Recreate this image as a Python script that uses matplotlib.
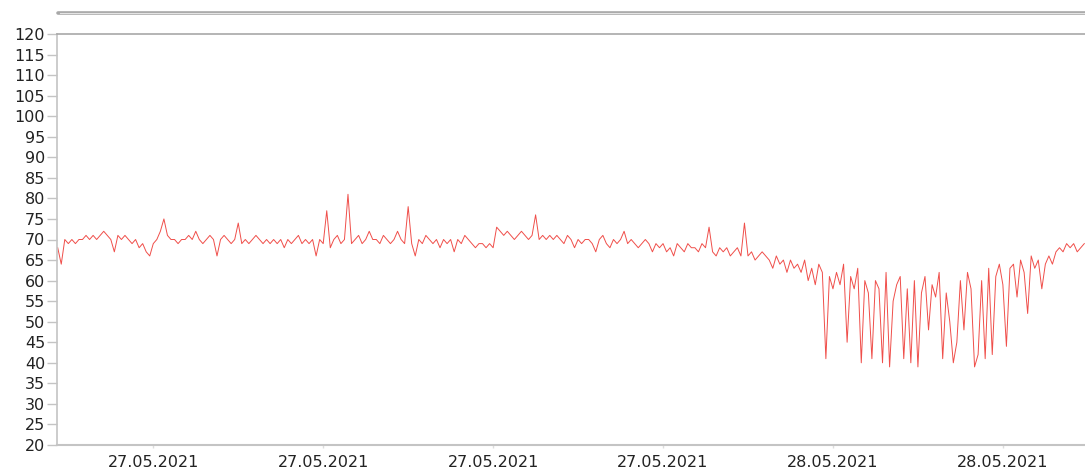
import matplotlib
matplotlib.use("Agg")
import matplotlib.pyplot as plt
from matplotlib.lines import Line2D
import pandas as pd

# ---- data ----
start_time = "2021-05-27 05:45"
sample_minutes = 5
heart_rate = [
    68, 64, 70, 69, 70, 69, 70, 70, 71, 70,
    71, 70, 71, 72, 71, 70, 67, 71, 70, 71,
    70, 69, 70, 68, 69, 67, 66, 69, 70, 72,
    75, 71, 70, 70, 69, 70, 70, 71, 70, 72,
    70, 69, 70, 71, 70, 66, 70, 71, 70, 69,
    70, 74, 69, 70, 69, 70, 71, 70, 69, 70,
    69, 70, 69, 70, 68, 70, 69, 70, 71, 69,
    70, 69, 70, 66, 70, 69, 77, 68, 70, 71,
    69, 70, 81, 69, 70, 71, 69, 70, 72, 70,
    70, 69, 71, 70, 69, 70, 72, 70, 69, 78,
    69, 66, 70, 69, 71, 70, 69, 70, 68, 70,
    69, 70, 67, 70, 69, 71, 70, 69, 68, 69,
    69, 68, 69, 68, 73, 72, 71, 72, 71, 70,
    71, 72, 71, 70, 71, 76, 70, 71, 70, 71,
    70, 71, 70, 69, 71, 70, 68, 70, 69, 70,
    70, 69, 67, 70, 71, 69, 68, 70, 69, 70,
    72, 69, 70, 69, 68, 69, 70, 69, 67, 69,
    68, 69, 67, 68, 66, 69, 68, 67, 69, 68,
    68, 67, 69, 68, 73, 67, 66, 68, 67, 68,
    66, 67, 68, 66, 74, 66, 67, 65, 66, 67,
    66, 65, 63, 66, 64, 65, 62, 65, 63, 64,
    62, 65, 60, 63, 59, 64, 62, 41, 61, 58,
    62, 59, 64, 45, 61, 58, 63, 40, 60, 57,
    41, 60, 58, 40, 62, 39, 55, 59, 61, 41,
    58, 40, 60, 39, 57, 61, 48, 59, 56, 62,
    41, 57, 50, 40, 45, 60, 48, 62, 58, 39,
    42, 60, 41, 63, 42, 61, 64, 59, 44, 63,
    64, 56, 65, 62, 52, 66, 63, 65, 58, 64,
    66, 64, 67, 68, 67, 69, 68, 69, 67, 68,
    69,
]
y_ticks = list(range(20, 121, 5))
x_tick_times = ["2021-05-27 08:00", "2021-05-27 12:00", "2021-05-27 16:00",
                "2021-05-27 20:00", "2021-05-28 00:00", "2021-05-28 04:00"]
x_tick_labels = ["27.05.2021", "27.05.2021", "27.05.2021",
                 "27.05.2021", "28.05.2021", "28.05.2021"]

times = pd.date_range(start=start_time, periods=len(heart_rate),
                      freq=f"{sample_minutes}min")

plt.rcParams['font.family'] = ['DejaVu Sans']

W, H = 1085, 468
fig = plt.figure(figsize=(W / 100, H / 100), dpi=100)
ax = fig.add_axes([57 / W, (H - 445) / H, (W - 57) / W, (445 - 34) / H])

ax.plot(times, heart_rate, color='#ee3b36', lw=0.7, alpha=0.9)

ax.set_ylim(20, 120)
ax.set_yticks(y_ticks)
ax.set_yticklabels([str(v) for v in y_ticks])
ax.set_xlim(pd.Timestamp("2021-05-27 05:44"), pd.Timestamp("2021-05-28 05:56"))
ax.set_xticks(pd.to_datetime(x_tick_times))
ax.set_xticklabels(x_tick_labels)

ax.spines['right'].set_visible(False)
ax.spines['left'].set_color('#c4c4c4')
ax.spines['bottom'].set_color('#c4c4c4')
ax.spines['top'].set_color('#a8a8a8')
ax.spines['left'].set_linewidth(1.2)
ax.spines['bottom'].set_linewidth(1.5)
ax.spines['top'].set_linewidth(1.2)

ax.tick_params(axis='y', length=7, width=1, color='#c4c4c4', pad=1.5,
               labelsize=11.5, labelcolor='#222222')
ax.tick_params(axis='x', length=2, width=1, color='#dddddd', pad=5,
               labelsize=11.5, labelcolor='#222222')

# top double line
fig.add_artist(Line2D([58 / W, 1.0], [(H - 13) / H, (H - 13) / H],
                      color='#a8a8a8', lw=2.6, solid_capstyle='round'))
fig.add_artist(Line2D([60 / W, 1.0], [(H - 13) / H, (H - 13) / H],
                      color='#e4e4e4', lw=0.8))

fig.savefig("out.png", dpi=100)
